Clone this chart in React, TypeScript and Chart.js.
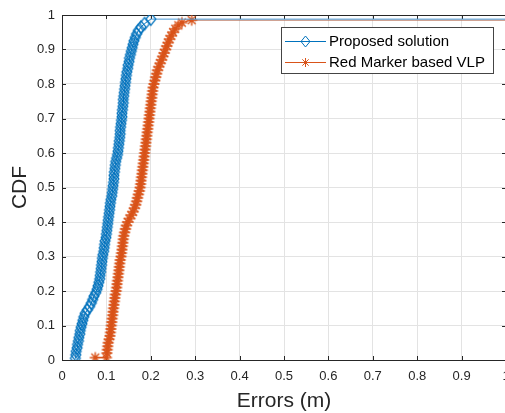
import React, { useEffect, useRef } from "react";
import { Chart, registerables } from "chart.js";

Chart.register(...registerables);

const seriesNames = ["Proposed solution", "Red Marker based VLP"];

const blueX = [
  0.030, 0.031, 0.032, 0.034, 0.035, 0.037, 0.038, 0.040, 0.041, 0.043,
  0.045, 0.047, 0.049, 0.052, 0.057, 0.062, 0.066, 0.069, 0.072, 0.076,
  0.079, 0.081, 0.083, 0.085, 0.086, 0.087, 0.088, 0.089, 0.090, 0.091,
  0.092, 0.094, 0.095, 0.096, 0.097, 0.099, 0.100, 0.101, 0.102, 0.103,
  0.104, 0.105, 0.106, 0.107, 0.108, 0.109, 0.110, 0.112, 0.113, 0.114,
  0.115, 0.116, 0.117, 0.117, 0.118, 0.119, 0.120, 0.121, 0.123, 0.125,
  0.126, 0.127, 0.128, 0.129, 0.130, 0.131, 0.131, 0.132, 0.133, 0.134,
  0.135, 0.135, 0.136, 0.137, 0.138, 0.138, 0.139, 0.140, 0.141, 0.142,
  0.143, 0.144, 0.145, 0.146, 0.148, 0.149, 0.151, 0.152, 0.154, 0.156,
  0.158, 0.160, 0.162, 0.165, 0.168, 0.172, 0.178, 0.186, 0.200, 1.500,
];
const blueY = [
  0.005, 0.015, 0.025, 0.035, 0.045, 0.055, 0.065, 0.075, 0.085, 0.095,
  0.105, 0.115, 0.125, 0.135, 0.145, 0.155, 0.165, 0.175, 0.185, 0.195,
  0.205, 0.215, 0.225, 0.235, 0.245, 0.255, 0.265, 0.275, 0.285, 0.295,
  0.305, 0.315, 0.325, 0.335, 0.345, 0.355, 0.365, 0.375, 0.385, 0.395,
  0.405, 0.415, 0.425, 0.435, 0.445, 0.455, 0.465, 0.475, 0.485, 0.495,
  0.505, 0.515, 0.525, 0.535, 0.545, 0.555, 0.565, 0.575, 0.585, 0.595,
  0.605, 0.615, 0.625, 0.635, 0.645, 0.655, 0.665, 0.675, 0.685, 0.695,
  0.705, 0.715, 0.725, 0.735, 0.745, 0.755, 0.765, 0.775, 0.785, 0.795,
  0.805, 0.815, 0.825, 0.835, 0.845, 0.855, 0.865, 0.875, 0.885, 0.895,
  0.905, 0.915, 0.925, 0.935, 0.945, 0.955, 0.965, 0.975, 0.988, 0.988,
];

const redX = [
  0.075, 0.100, 0.101, 0.102, 0.103, 0.104, 0.106, 0.108, 0.109, 0.110,
  0.111, 0.112, 0.113, 0.114, 0.115, 0.116, 0.117, 0.118, 0.119, 0.120,
  0.122, 0.123, 0.124, 0.125, 0.126, 0.127, 0.128, 0.129, 0.130, 0.131,
  0.133, 0.134, 0.135, 0.136, 0.137, 0.138, 0.139, 0.141, 0.143, 0.145,
  0.148, 0.152, 0.156, 0.160, 0.163, 0.166, 0.168, 0.170, 0.172, 0.174,
  0.176, 0.177, 0.178, 0.179, 0.180, 0.181, 0.182, 0.183, 0.184, 0.185,
  0.186, 0.187, 0.188, 0.189, 0.190, 0.191, 0.192, 0.193, 0.194, 0.195,
  0.196, 0.197, 0.198, 0.199, 0.200, 0.201, 0.202, 0.203, 0.204, 0.205,
  0.207, 0.209, 0.211, 0.213, 0.215, 0.218, 0.221, 0.224, 0.227, 0.230,
  0.233, 0.236, 0.239, 0.242, 0.246, 0.250, 0.255, 0.262, 0.270, 0.292,
  1.500,
];
const redY = [
  0.007, 0.007, 0.020, 0.030, 0.040, 0.050, 0.060, 0.070, 0.080, 0.090,
  0.100, 0.110, 0.120, 0.130, 0.140, 0.150, 0.160, 0.170, 0.180, 0.190,
  0.200, 0.210, 0.220, 0.230, 0.240, 0.250, 0.260, 0.270, 0.280, 0.290,
  0.300, 0.310, 0.320, 0.330, 0.340, 0.350, 0.360, 0.370, 0.380, 0.390,
  0.400, 0.410, 0.420, 0.430, 0.440, 0.450, 0.460, 0.470, 0.480, 0.490,
  0.500, 0.510, 0.520, 0.530, 0.540, 0.550, 0.560, 0.570, 0.580, 0.590,
  0.600, 0.610, 0.620, 0.630, 0.640, 0.650, 0.660, 0.670, 0.680, 0.690,
  0.700, 0.710, 0.720, 0.730, 0.740, 0.750, 0.760, 0.770, 0.780, 0.790,
  0.800, 0.810, 0.820, 0.830, 0.840, 0.850, 0.860, 0.870, 0.880, 0.890,
  0.900, 0.910, 0.920, 0.930, 0.940, 0.950, 0.960, 0.970, 0.978, 0.985,
  0.985,
];

const xTitle = "Errors (m)";
const yTitle = "CDF";

const BLUE = "#0072BD";
const RED = "#D95319";
const AXIS = "#262626";
const FONT = "'Liberation Sans', Arial, Helvetica, sans-serif";

function toPoints(xs: number[], ys: number[]) {
  return xs.map((x, i) => ({ x, y: ys[i] }));
}

function drawDiamond(ctx: CanvasRenderingContext2D, x: number, y: number, rx: number, ry: number) {
  ctx.beginPath();
  ctx.moveTo(x, y - ry);
  ctx.lineTo(x + rx, y);
  ctx.lineTo(x, y + ry);
  ctx.lineTo(x - rx, y);
  ctx.closePath();
  ctx.stroke();
}

function drawStar(ctx: CanvasRenderingContext2D, x: number, y: number, r: number) {
  ctx.beginPath();
  ctx.moveTo(x - r, y);
  ctx.lineTo(x + r, y);
  ctx.moveTo(x, y - r);
  ctx.lineTo(x, y + r);
  const d = r * Math.SQRT1_2;
  ctx.moveTo(x - d, y - d);
  ctx.lineTo(x + d, y + d);
  ctx.moveTo(x - d, y + d);
  ctx.lineTo(x + d, y - d);
  ctx.stroke();
}

function makeDiamondImage(): HTMLCanvasElement {
  const c = document.createElement("canvas");
  c.width = 14;
  c.height = 16;
  const g = c.getContext("2d")!;
  g.strokeStyle = BLUE;
  g.lineWidth = 1.2;
  drawDiamond(g, 7, 8, 5, 6.2);
  return c;
}

function makeStarImage(): HTMLCanvasElement {
  const c = document.createElement("canvas");
  c.width = 14;
  c.height = 14;
  const g = c.getContext("2d")!;
  g.strokeStyle = RED;
  g.lineWidth = 1.4;
  drawStar(g, 7, 7, 5.5);
  return c;
}

const decorPlugin = {
  id: "decor",
  beforeDatasetsDraw(chart: any) {
    const { ctx, chartArea } = chart;
    const xs = chart.scales.x;
    const ys = chart.scales.y;
    ctx.save();
    ctx.strokeStyle = AXIS;
    ctx.lineWidth = 1;
    ctx.beginPath();
    ctx.moveTo(chartArea.left, chartArea.top + 0.5);
    ctx.lineTo(chartArea.right, chartArea.top + 0.5);
    ctx.moveTo(chartArea.right - 0.5, chartArea.top);
    ctx.lineTo(chartArea.right - 0.5, chartArea.bottom);
    const tl = 4;
    xs.ticks.forEach((t: any) => {
      const px = Math.round(xs.getPixelForValue(t.value)) + 0.5;
      ctx.moveTo(px, chartArea.bottom);
      ctx.lineTo(px, chartArea.bottom - tl);
      ctx.moveTo(px, chartArea.top);
      ctx.lineTo(px, chartArea.top + tl);
    });
    ys.ticks.forEach((t: any) => {
      const py = Math.round(ys.getPixelForValue(t.value)) + 0.5;
      ctx.moveTo(chartArea.left, py);
      ctx.lineTo(chartArea.left + tl, py);
      ctx.moveTo(chartArea.right, py);
      ctx.lineTo(chartArea.right - tl, py);
    });
    ctx.stroke();
    ctx.restore();
  },
  afterDraw(chart: any) {
    const { ctx, chartArea } = chart;
    ctx.save();
    ctx.fillStyle = AXIS;
    ctx.font = `21px ${FONT}`;
    ctx.textAlign = "center";
    ctx.textBaseline = "middle";
    ctx.fillText(xTitle, (chartArea.left + chartArea.right) / 2, 401);
    ctx.save();
    ctx.translate(20, (chartArea.top + chartArea.bottom) / 2);
    ctx.rotate(-Math.PI / 2);
    ctx.fillText(yTitle, 0, 0);
    ctx.restore();

    const lx = 281, ly = 27, lw = 212, lh = 46;
    ctx.fillStyle = "#ffffff";
    ctx.fillRect(lx, ly, lw, lh);
    ctx.strokeStyle = "#444444";
    ctx.lineWidth = 1;
    ctx.strokeRect(lx + 0.5, ly + 0.5, lw, lh);
    const rows = [
      { y: 41, color: BLUE, kind: "d" },
      { y: 62, color: RED, kind: "s" },
    ];
    rows.forEach((r, i) => {
      ctx.strokeStyle = r.color;
      ctx.lineWidth = 1;
      ctx.beginPath();
      ctx.moveTo(285, r.y + 0.5);
      ctx.lineTo(326, r.y + 0.5);
      ctx.stroke();
      if (r.kind === "d") drawDiamond(ctx, 305.5, r.y + 0.5, 4.5, 5.5);
      else drawStar(ctx, 305.5, r.y + 0.5, 4.5);
      ctx.fillStyle = "#000000";
      ctx.font = `15px ${FONT}`;
      ctx.textAlign = "left";
      ctx.textBaseline = "middle";
      ctx.fillText(seriesNames[i], 329, r.y + 1);
    });
    ctx.restore();
  },
};

const fmt = (v: any) => String(Number(Number(v).toFixed(1)));

export default function App() {
  const canvasRef = useRef<HTMLCanvasElement | null>(null);

  useEffect(() => {
    if (!canvasRef.current) return;
    const lastB = blueX.length - 1;
    const lastR = redX.length - 1;
    const diamondImg = makeDiamondImage();
    const starImg = makeStarImage();
    const chart = new Chart(canvasRef.current, {
      type: "scatter",
      data: {
        datasets: [
          {
            label: seriesNames[0],
            data: toPoints(blueX, blueY),
            showLine: true,
            borderColor: BLUE,
            backgroundColor: "rgba(0,0,0,0)",
            borderWidth: 1,
            pointStyle: diamondImg,
            pointRadius: (c: any) => (c.dataIndex === lastB ? 0 : 6),
            segment: {
              borderColor: (c: any) => (c.p1DataIndex === lastB ? "#4a9ad6" : BLUE),
            },
          },
          {
            label: seriesNames[1],
            data: toPoints(redX, redY),
            showLine: true,
            borderColor: RED,
            backgroundColor: "rgba(0,0,0,0)",
            borderWidth: 1,
            pointStyle: starImg,
            pointRadius: (c: any) => (c.dataIndex === lastR ? 0 : 6),
            segment: {
              borderColor: (c: any) => (c.p1DataIndex === lastR ? "#b87560" : RED),
            },
          },
        ],
      },
      options: {
        responsive: false,
        animation: false,
        layout: { padding: { top: 15, right: 14, left: 0, bottom: 0 } },
        plugins: {
          legend: { display: false },
          tooltip: { enabled: false },
        },
        scales: {
          x: {
            type: "linear",
            min: 0,
            max: 1,
            afterFit: (s: any) => {
              s.height = 53;
            },
            ticks: {
              stepSize: 0.1,
              color: AXIS,
              font: { family: FONT, size: 13 },
              padding: 9,
              maxRotation: 0,
              callback: fmt,
            },
            grid: { color: "#e3e3e3", lineWidth: 1, drawTicks: false },
            border: { display: true, color: AXIS, width: 1 },
          },
          y: {
            type: "linear",
            min: 0,
            max: 1,
            afterFit: (s: any) => {
              s.width = 62;
            },
            ticks: {
              stepSize: 0.1,
              color: AXIS,
              font: { family: FONT, size: 13 },
              padding: 7,
              callback: fmt,
            },
            grid: { color: "#e3e3e3", lineWidth: 1, drawTicks: false },
            border: { display: true, color: AXIS, width: 1 },
          },
        },
      },
      plugins: [decorPlugin],
    } as any);
    return () => chart.destroy();
  }, []);

  return (
    <div
      style={{
        position: "fixed",
        left: 0,
        top: 0,
        width: 505,
        height: 413,
        overflow: "hidden",
        background: "#ffffff",
      }}
    >
      <canvas ref={canvasRef} width={520} height={413} style={{ width: 520, height: 413, display: "block" }} />
    </div>
  );
}
